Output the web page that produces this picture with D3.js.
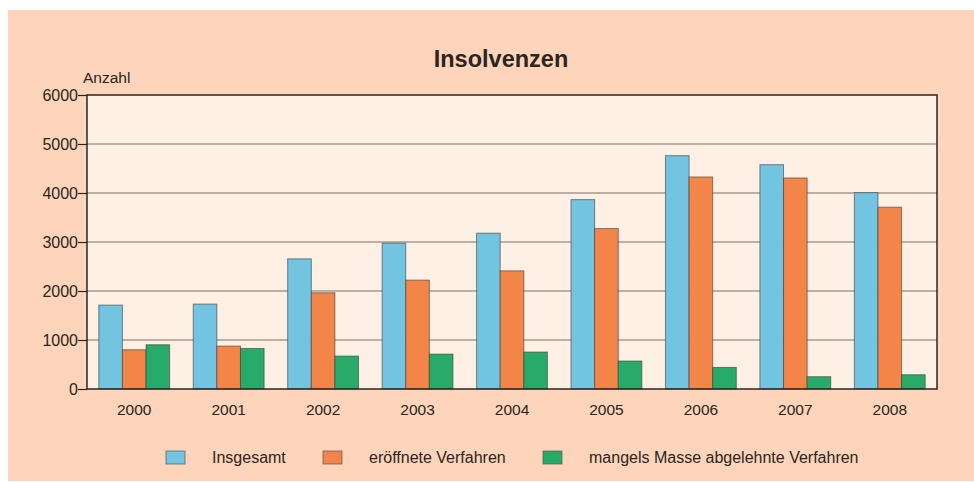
<!DOCTYPE html>
<html>
<head>
<meta charset="utf-8">
<script src="https://cdn.jsdelivr.net/npm/d3@7"></script>
<style>
  html, body { margin: 0; padding: 0; background: #fff; }
  svg { display: block; font-family: "Liberation Sans", Arial, sans-serif; }
</style>
</head>
<body>
<svg id="chart" width="974" height="483"></svg>
<script>
// data
const years = ['2000', '2001', '2002', '2003', '2004', '2005', '2006', '2007', '2008']
const seriesNames = ['Insgesamt', 'eröffnete Verfahren', 'mangels Masse abgelehnte Verfahren']
const insgesamt = [1712, 1733, 2656, 2976, 3180, 3865, 4762, 4578, 4007]
const eroeffnet = [801, 876, 1963, 2222, 2411, 3274, 4327, 4307, 3710]
const mangels = [903, 828, 672, 713, 754, 571, 440, 251, 291]
const yTicks = [0, 1000, 2000, 3000, 4000, 5000, 6000]

const COLORS = ['#73c4e0', '#f48548', '#28ab69']
const M = { top: 95, left: 87, bottom: 94, right: 37 }
const W = 974, H = 483

const svg = d3.select('#chart')

// peach card
svg.append('rect')
  .attr('x', 8).attr('y', 10)
  .attr('width', W - 8).attr('height', H - 12)
  .attr('fill', '#fed5bb')

const width = W - M.left - M.right
const height = H - M.top - M.bottom

const x = d3.scaleBand().domain(years).range([0, width]).paddingInner(0.25).paddingOuter(0.125)
const xs = d3.scaleBand().domain(d3.range(3)).range([0, x.bandwidth()])
const y = d3.scaleLinear().domain([0, 6000]).range([height, 0])

const g = svg.append('g').attr('transform', `translate(${M.left},${M.top})`)

g.append('rect')
  .attr('width', width).attr('height', height)
  .attr('fill', '#fef0e5')

// grid
g.append('g')
  .selectAll('line')
  .data(yTicks.slice(1, -1))
  .join('line')
  .attr('x1', 0).attr('x2', width)
  .attr('y1', d => y(d)).attr('y2', d => y(d))
  .attr('stroke', '#7a6e66').attr('stroke-width', 1.2)

// bars
const rows = years.map((yr, i) => ({ year: yr, vals: [insgesamt[i], eroeffnet[i], mangels[i]] }))
g.append('g')
  .selectAll('g')
  .data(rows)
  .join('g')
  .attr('transform', d => `translate(${x(d.year)},0)`)
  .selectAll('rect')
  .data(d => d.vals)
  .join('rect')
  .attr('x', (d, i) => xs(i))
  .attr('y', d => y(d))
  .attr('width', xs.bandwidth())
  .attr('height', d => height - y(d))
  .attr('fill', (d, i) => COLORS[i])
  .attr('stroke', '#3a3a3a').attr('stroke-opacity', 0.6).attr('stroke-width', 1)

// frame
g.append('rect')
  .attr('width', width).attr('height', height)
  .attr('fill', 'none')
  .attr('stroke', '#2b2420').attr('stroke-width', 1.5)

// y axis
const yAxis = g.append('g')
  .call(d3.axisLeft(y).tickValues(yTicks).tickSize(9).tickSizeOuter(0).tickFormat(d3.format('d')))
yAxis.select('.domain').remove()
yAxis.selectAll('line').attr('stroke', '#2b2420').attr('stroke-width', 1.2)
yAxis.selectAll('text').attr('font-size', 16).attr('fill', '#2b2420').attr('x', -9).attr('font-family', null)

// x axis labels
const xAxis = g.append('g')
  .attr('transform', `translate(0,${height})`)
  .call(d3.axisBottom(x).tickSize(0))
xAxis.select('.domain').remove()
xAxis.selectAll('text').attr('font-size', 15.5).attr('fill', '#2b2420').attr('dy', '1.5em').attr('font-family', null)

// title + unit
svg.append('text')
  .attr('x', 501).attr('y', 67)
  .attr('text-anchor', 'middle')
  .attr('font-size', 23.5).attr('font-weight', 'bold')
  .attr('fill', '#2b2420')
  .text('Insolvenzen')

svg.append('text')
  .attr('x', 83).attr('y', 83)
  .attr('font-size', 15.5).attr('fill', '#2b2420')
  .text('Anzahl')

// legend
const legX = [166, 323, 543]
const leg = svg.append('g')
  .selectAll('g')
  .data(seriesNames)
  .join('g')
  .attr('transform', (d, i) => `translate(${legX[i]},451)`)
leg.append('rect')
  .attr('width', 19).attr('height', 13)
  .attr('fill', (d, i) => COLORS[i])
  .attr('stroke', '#555').attr('stroke-opacity', 0.7)
leg.append('text')
  .attr('x', 46).attr('y', 12)
  .attr('font-size', 16).attr('fill', '#2b2420')
  .text(d => d)
</script>
</body>
</html>
